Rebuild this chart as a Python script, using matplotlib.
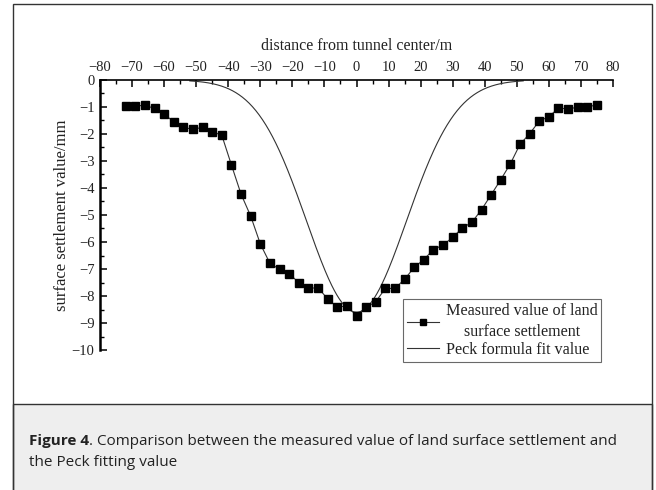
import numpy as np
import matplotlib
matplotlib.use("Agg")
import matplotlib.pyplot as plt
from matplotlib.patches import Rectangle
from matplotlib.lines import Line2D
from matplotlib.ticker import MultipleLocator

# Measured surface settlement along the cross-section (m, mm)
distance = [-72, -69, -66, -63, -60, -57, -54, -51, -48, -45, -42, -39, -36,
            -33, -30, -27, -24, -21, -18, -15, -12, -9, -6, -3, 0,
            3, 6, 9, 12, 15, 18, 21, 24, 27, 30, 33, 36, 39, 42, 45, 48,
            51, 54, 57, 60, 63, 66, 69, 72, 75]
settlement = [-0.96, -0.96, -0.94, -1.05, -1.25, -1.56, -1.75, -1.83, -1.75,
              -1.91, -2.05, -3.15, -4.23, -5.04, -6.07, -6.79, -7.01, -7.17,
              -7.51, -7.72, -7.69, -8.11, -8.41, -8.37, -8.73,
              -8.42, -8.21, -7.72, -7.72, -7.38, -6.94, -6.65, -6.28, -6.11,
              -5.83, -5.48, -5.27, -4.80, -4.25, -3.69, -3.10,
              -2.38, -1.99, -1.52, -1.36, -1.04, -1.07, -1.01, -1.01, -0.91]

# Peck formula parameters: maximum settlement (mm) and trough width i (m)
peck_smax = 8.6
peck_i = 15.6
peck_range = [-52, 52]

x_ticks = [-80, -70, -60, -50, -40, -30, -20, -10, 0, 10, 20, 30, 40, 50, 60, 70, 80]
y_ticks = [0, -1, -2, -3, -4, -5, -6, -7, -8, -9, -10]

caption_bold = "Figure 4"
caption_line1 = ". Comparison between the measured value of land surface settlement and"
caption_line2 = "the Peck fitting value"

W, H = 656, 490
fig = plt.figure(figsize=(W / 100, H / 100), dpi=100)


def fx(px):
    return px / W


def fy(py):
    return 1 - py / H


# outer frame and grey caption panel
fig.patches.append(Rectangle((fx(13), fy(492)), fx(652) - fx(13), fy(404) - fy(492),
                             transform=fig.transFigure, facecolor="#eeeeee",
                             edgecolor="#333333", linewidth=1.0, zorder=0))
fig.patches.append(Rectangle((fx(13), fy(492)), fx(652) - fx(13), fy(4) - fy(492),
                             transform=fig.transFigure, facecolor="none",
                             edgecolor="#333333", linewidth=1.0, zorder=1))

ax = fig.add_axes([fx(100), fy(350), fx(613) - fx(100), fy(80) - fy(350)])
ax.set_facecolor("none")

serif = "Liberation Serif"

xs = np.linspace(peck_range[0], peck_range[1], 400)
peck = -peck_smax * np.exp(-xs ** 2 / (2 * peck_i ** 2))
ax.plot(xs, peck, color="#333333", linewidth=0.8, zorder=2)
ax.plot(distance, settlement, color="#333333", linewidth=0.8, marker="s",
        markersize=6, markerfacecolor="black", markeredgecolor="black",
        zorder=3, clip_on=False)

ax.set_xlim(-80, 80)
ax.set_ylim(-10, 0)
ax.set_xticks(x_ticks)
ax.set_yticks(y_ticks)
ax.xaxis.set_minor_locator(MultipleLocator(5))
ax.yaxis.set_minor_locator(MultipleLocator(0.5))

for s in ["right", "bottom"]:
    ax.spines[s].set_visible(False)
ax.spines["left"].set_linewidth(1.8)
ax.spines["top"].set_linewidth(1.2)

ax.xaxis.set_ticks_position("top")
ax.xaxis.set_label_position("top")
ax.tick_params(axis="x", which="major", direction="in", length=5, width=1.1,
               pad=4, labelsize=10.5, labelcolor="#222222")
ax.tick_params(axis="x", which="minor", direction="in", length=3, width=1.0)
ax.tick_params(axis="y", which="major", direction="in", length=5, width=1.1,
               pad=4, labelsize=10.5, labelcolor="#222222")
ax.tick_params(axis="y", which="minor", direction="in", length=3, width=1.0)
for lab in ax.get_xticklabels() + ax.get_yticklabels():
    lab.set_fontfamily(serif)

ax.set_xlabel("distance from tunnel center/m", fontfamily=serif, fontsize=11.5,
              color="#222222", labelpad=8)
ax.set_ylabel("surface settlement value/mm", fontfamily=serif, fontsize=12,
              color="#222222")
ax.yaxis.set_label_coords(-0.058, 0.5)

handles = [
    Line2D([], [], color="#333333", linewidth=0.8, marker="s", markersize=4.5,
           markerfacecolor="black", markeredgecolor="black"),
    Line2D([], [], color="#333333", linewidth=0.8),
]
leg = ax.legend(handles, ["Measured value of land\nsurface settlement",
                          "Peck formula fit value"],
                loc="lower left", bbox_to_anchor=(fx(403), fy(362)),
                bbox_transform=fig.transFigure, frameon=True, fancybox=False,
                prop={"family": serif, "size": 11.6}, handlelength=2.0,
                handletextpad=0.4, borderpad=0.25, labelspacing=0.15,
                borderaxespad=0)
leg.get_frame().set_edgecolor("#444444")
leg.get_frame().set_linewidth(0.8)
leg.set_zorder(5)
for t in leg.get_texts():
    t.set_multialignment("center")
    t.set_linespacing(1.35)
    t.set_color("#222222")

# caption
cap_size = 11
t1 = fig.text(fx(29), fy(445), caption_bold, fontfamily="Open Sans", fontweight="bold",
              fontsize=cap_size, color="#222222", va="baseline", ha="left")
fig.canvas.draw()
r = fig.canvas.get_renderer()
bb1 = t1.get_window_extent(r)
fig.text(bb1.x1 / W, fy(445), caption_line1, fontfamily="Open Sans", fontsize=cap_size,
         color="#222222", va="baseline", ha="left")
fig.text(fx(29), fy(466), caption_line2, fontfamily="Open Sans", fontsize=cap_size,
         color="#222222", va="baseline", ha="left")

fig.savefig("out.png", dpi=100)
